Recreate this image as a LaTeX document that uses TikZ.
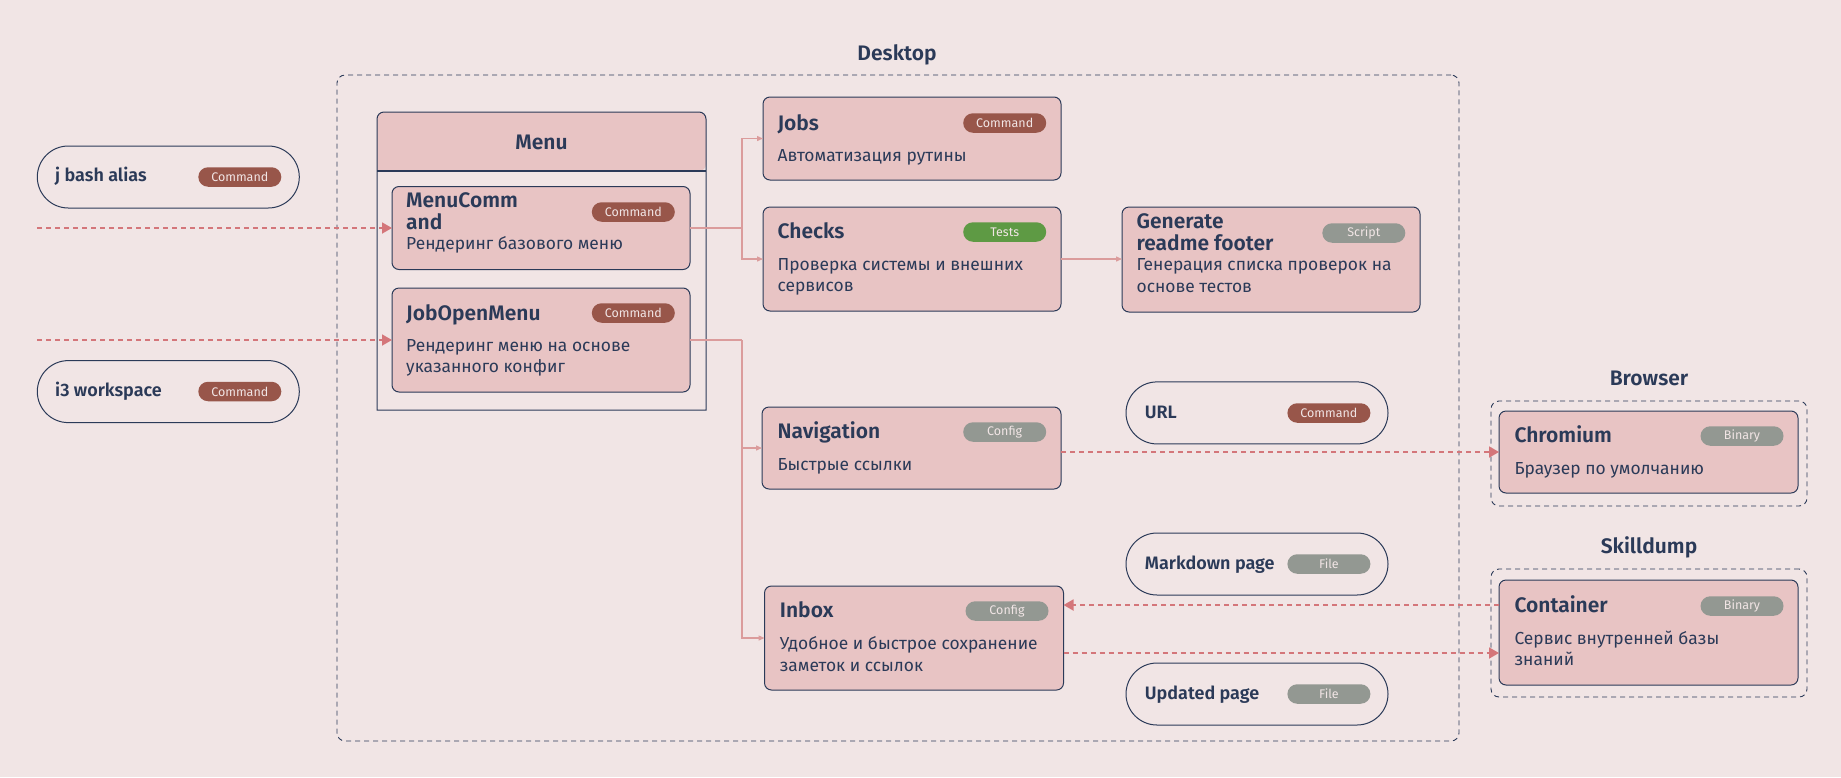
\documentclass[tikz,border=0pt]{standalone}
\usepackage{fontspec}
\setmainfont{Fira Sans}[BoldFont={Fira Sans SemiBold}]
\usetikzlibrary{arrows.meta}
\definecolor{bg}{HTML}{F1E5E5}
\definecolor{cardc}{HTML}{E8C4C4}
\definecolor{navy}{HTML}{2B3A58}
\definecolor{cmdc}{HTML}{98564A}
\definecolor{testc}{HTML}{5E9A44}
\definecolor{grayc}{HTML}{939892}
\definecolor{redc}{HTML}{D4767A}
\definecolor{linkc}{HTML}{DB9C9C}
\tikzset{
 card/.style={draw=navy, fill=cardc, line width=1pt, rounded corners=7pt, inner sep=0, outer sep=0},
 pill/.style={draw=navy, line width=1pt, rounded corners=31pt, minimum width=262pt, minimum height=62pt, inner sep=0, outer sep=0},
 badge/.style={rounded corners=9.75pt, minimum width=83pt, minimum height=19.5pt, inner sep=0, text=bg, font=\fontsize{12.5}{12.5}\selectfont, anchor=east},
 ttl/.style={anchor=base west, inner sep=0, text=navy, font=\fontsize{21}{21}\selectfont\bfseries},
 dsc/.style={anchor=base west, inner sep=0, text=navy, font=\fontsize{17.4}{17.4}\selectfont},
 ptxt/.style={anchor=base west, inner sep=0, text=navy, font=\fontsize{18}{18}\selectfont\bfseries},
 grp/.style={draw=navy, dash pattern=on 5pt off 4pt, line width=0.9pt, rounded corners=8pt, inner sep=0, outer sep=0},
 redflow/.style={draw=redc, line width=1.8pt, dash pattern=on 5pt off 4pt, -{Triangle[length=10pt,width=11pt]}},
 link/.style={draw=linkc, line width=1.3pt},
 linkarr/.style={draw=linkc, line width=1.3pt, -{Triangle[length=6pt,width=5pt]}}
}
\begin{document}
\begin{tikzpicture}[x=1pt, y=-1pt]
\useasboundingbox[fill=bg] (0,0) rectangle (1841,777);
% groups
\node[grp, minimum width=1122pt, minimum height=666pt] (desktop) at (898,408) {};
\node[ttl, anchor=base] (desktop-t) at (897,60) {Desktop};
\node[grp, minimum width=316pt, minimum height=105pt] (browser) at (1649,453.5) {};
\node[ttl, anchor=base] (browser-t) at (1649,385) {Browser};
\node[grp, minimum width=316pt, minimum height=128pt] (skilldump) at (1649,633) {};
\node[ttl, anchor=base] (skilldump-t) at (1649,553) {Skilldump};
% menu frame
\node[minimum width=329pt, minimum height=298pt, anchor=north west, inner sep=0] (menu) at (377,112) {};
\path[fill=cardc, rounded corners=7pt] (377,171) -- (377,112) -- (706,112) -- (706,171) [sharp corners] -- cycle;
\draw[navy, line width=1pt, rounded corners=7pt] (377,250) -- (377,112) -- (706,112) -- (706,250) [sharp corners] -- (706,410) -- (377,410) -- cycle;
\draw[navy, line width=2pt] (377,171) -- (706,171);
\node[ttl, anchor=base] (menu-t) at (541.5,149) {Menu};
% pills
\node[pill] (jbash) at (168.3,177) {};
\node[ptxt] (jbash-t) at (55,181.7) {j bash alias};
\node[badge, fill=cmdc] (jbash-b) at (281.5,177) {Command};
\node[pill] (i3ws) at (168.3,391.6) {};
\node[ptxt] (i3ws-t) at (55,396.7) {i3 workspace};
\node[badge, fill=cmdc] (i3ws-b) at (281.5,391.5) {Command};
\node[pill] (url) at (1257,412.9) {};
\node[ptxt] (url-t) at (1144.7,418.3) {URL};
\node[badge, fill=cmdc] (url-b) at (1370.6,413) {Command};
\node[pill] (mdpage) at (1257,564) {};
\node[ptxt] (mdpage-t) at (1144.7,569.3) {Markdown page};
\node[badge, fill=grayc] (mdpage-b) at (1370.6,564) {File};
\node[pill] (updpage) at (1257,694) {};
\node[ptxt] (updpage-t) at (1144.7,699.3) {Updated page};
\node[badge, fill=grayc] (updpage-b) at (1370.6,694) {File};
% cards
\node[card, minimum width=298pt, minimum height=83pt] (menucmd) at (541,228) {};
\node[ttl] (menucmd-t1) at (406,207) {MenuComm};
\node[ttl] (menucmd-t2) at (406,229) {and};
\node[badge, fill=cmdc] (menucmd-b) at (675,212) {Command};
\node[dsc] (menucmd-d) at (406,249) {Рендеринг базового меню};
\node[card, minimum width=298pt, minimum height=104pt] (jobopen) at (541,340) {};
\node[ttl] (jobopen-t) at (406,320) {JobOpenMenu};
\node[badge, fill=cmdc] (jobopen-b) at (675,313) {Command};
\node[dsc] (jobopen-d1) at (406,351.7) {Рендеринг меню на основе};
\node[dsc] (jobopen-d2) at (406,372.7) {указанного конфиг};
\node[card, minimum width=298pt, minimum height=83pt] (jobs) at (912,138.5) {};
\node[ttl] (jobs-t) at (777.4,130) {Jobs};
\node[badge, fill=cmdc] (jobs-b) at (1046.4,123) {Command};
\node[dsc] (jobs-d) at (777.4,161) {Автоматизация рутины};
\node[card, minimum width=298pt, minimum height=104pt] (checks) at (912,259) {};
\node[ttl] (checks-t) at (777.4,238.3) {Checks};
\node[badge, fill=testc] (checks-b) at (1046.4,232) {Tests};
\node[dsc] (checks-d1) at (777.4,270) {Проверка системы и внешних};
\node[dsc] (checks-d2) at (777.4,291.7) {сервисов};
\node[card, minimum width=298pt, minimum height=105pt] (gen) at (1271,259.5) {};
\node[ttl] (gen-t1) at (1136.4,228.3) {Generate};
\node[ttl] (gen-t2) at (1136.4,250) {readme footer};
\node[badge, fill=grayc] (gen-b) at (1405.5,233) {Script};
\node[dsc] (gen-d1) at (1136.4,270.7) {Генерация списка проверок на};
\node[dsc] (gen-d2) at (1136.4,292.7) {основе тестов};
\node[card, minimum width=299pt, minimum height=82pt] (nav) at (911.5,448) {};
\node[ttl] (nav-t) at (777.4,438.3) {Navigation};
\node[badge, fill=grayc] (nav-b) at (1046.4,432) {Config};
\node[dsc] (nav-d) at (777.4,470) {Быстрые ссылки};
\node[card, minimum width=299pt, minimum height=104pt] (inbox) at (914,638) {};
\node[ttl] (inbox-t) at (779.7,617.3) {Inbox};
\node[badge, fill=grayc] (inbox-b) at (1048.7,611) {Config};
\node[dsc] (inbox-d1) at (779.7,649.3) {Удобное и быстрое сохранение};
\node[dsc] (inbox-d2) at (779.7,671) {заметок и ссылок};
\node[card, minimum width=299pt, minimum height=82pt] (chromium) at (1648.5,452) {};
\node[ttl] (chromium-t) at (1514.3,442.7) {Chromium};
\node[badge, fill=grayc] (chromium-b) at (1783.7,436) {Binary};
\node[dsc] (chromium-d) at (1514.3,474) {Браузер по умолчанию};
\node[card, minimum width=299pt, minimum height=105pt] (container) at (1648.5,632.5) {};
\node[ttl] (container-t) at (1514.3,612.7) {Container};
\node[badge, fill=grayc] (container-b) at (1783.7,606) {Binary};
\node[dsc] (container-d1) at (1514.3,644) {Сервис внутренней базы};
\node[dsc] (container-d2) at (1514.3,665.5) {знаний};
% connectors
\coordinate (in1) at (37,228);
\coordinate (in2) at (37,340);
\draw[redflow] (in1) -- (menucmd.west);
\draw[redflow] (in2) -- (jobopen.west);
\coordinate (bus1) at (742,228);
\coordinate (bus2) at (742,340);
\draw[link] (menucmd.east) -- (bus1);
\draw[linkarr] (bus1) |- (jobs.west);
\draw[linkarr] (bus1) |- (checks.west);
\draw[link] (jobopen.east) -- (bus2);
\draw[linkarr] (bus2) |- (nav.west);
\draw[linkarr] (bus2) |- (inbox.west);
\draw[linkarr] (checks.east) -- (gen.west |- checks.east);
\draw[redflow] (nav.east |- chromium.west) -- (chromium.west);
\coordinate (r1) at (0,605);
\coordinate (r2) at (0,653);
\draw[redflow] (container.west |- r1) -- (inbox.east |- r1);
\draw[redflow] (inbox.east |- r2) -- (container.west |- r2);
\end{tikzpicture}
\end{document}
